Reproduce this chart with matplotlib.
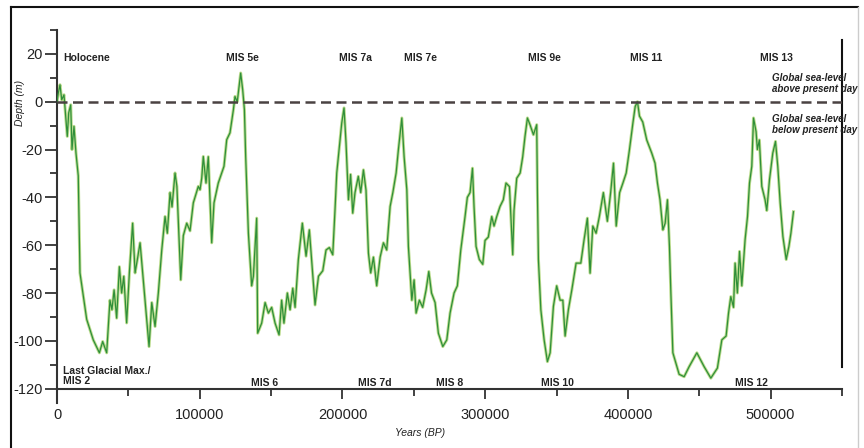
import matplotlib
matplotlib.use("Agg")
import matplotlib.pyplot as plt
from matplotlib.lines import Line2D

plt.rcParams['font.family'] = ['Liberation Sans', 'DejaVu Sans']
plt.rcParams['axes.unicode_minus'] = False

# sea level record
years = [0, 900, 2100, 3300, 4900, 6300, 7200, 8200, 9600, 10500, 11900, 13300,
         14900, 16100, 20800, 25400, 29700, 32000, 34800, 37100, 38500, 40000,
         41800, 43700, 45300, 46800, 48800, 50700, 53000, 54700, 56300, 58200,
         60000, 62400, 64500, 66400, 68700, 71000, 73400, 75700, 77300, 79200,
         80600, 82700, 84000, 86700, 88500, 90900, 93200, 95500, 99000, 100200,
         101400, 102500, 104400, 106000, 108400, 110000, 113000, 115400, 117000,
         118900, 121200, 123600, 124700, 126300, 128700, 130100, 131300, 132200,
         134100, 136400, 137600, 139900, 140600, 143400, 145800, 148100, 150400,
         152800, 155600, 157400, 159000, 161400, 163300, 165200, 166800, 169100,
         171900, 174500, 176800, 178400, 180800, 183200, 186200, 188500, 190800,
         193200, 194800, 196000, 197900, 199500, 201100, 202500, 204200, 205700,
         207200, 208800, 211100, 212800, 214700, 216500, 218200, 219800, 221700,
         224000, 226400, 228700, 231000, 233400, 235300, 237600, 239200, 241600,
         243200, 245100, 246200, 248600, 250200, 251600, 253900, 256200, 258600,
         260500, 262400, 264900, 267200, 270300, 273100, 275400, 278200, 280500,
         282900, 285900, 287500, 289400, 291100, 292200, 293600, 295900, 298300,
         299900, 302200, 304600, 306200, 308100, 310400, 312700, 314600, 317000,
         319300, 320200, 322100, 324500, 326300, 327900, 329600, 331400, 333800,
         336100, 336600, 337300, 339000, 341300, 343600, 345500, 347800, 350100,
         352500, 354400, 356000, 358300, 360700, 363700, 367000, 369300, 371600,
         373500, 375400, 377700, 380000, 382800, 385600, 387900, 389900, 391800,
         394200, 396500, 398800, 401100, 403500, 405100, 406700, 408100, 410400,
         413200, 416700, 419000, 420700, 422500, 424500, 426100, 427700, 429100,
         430100, 431500, 435900, 439400, 442900, 448300, 453400, 458100, 462700,
         465800, 468800, 470500, 472100, 474000, 475100, 476700, 478200, 479800,
         482100, 483800, 485200, 486800, 488000, 489800, 490700, 492100, 493800,
         496100, 497300, 499200, 501500, 503400, 505000, 506700, 508600, 510900,
         512800, 514200, 516000]
depth = [0, 3.6, 7.1, 0.8, 2.9, -7.5, -14.5, -4.6, -1.3, -20, -10.3, -21.5,
         -31, -71.6, -91, -99.6, -105, -100.3, -105, -83, -87, -78.7,
         -90.5, -69, -80, -73, -92.5, -71.6, -50.8, -71.6, -66, -59,
         -71.6, -88, -102.4, -84, -94, -80, -62, -48, -55, -38,
         -44, -29.8, -35.4, -74.5, -56, -50.8, -54, -42.3, -35.4, -36.8,
         -32, -22.9, -34, -23, -59, -42.3, -34, -29.8, -27,
         -15.9, -13, -3.3, 2.2, 0, 12, 5, -3.3, -23,
         -55, -77, -73, -48.7, -96.8, -92.6, -84, -88.4, -86,
         -92.6, -97.5, -83, -92.6, -80, -87, -78, -86, -66,
         -50.8, -64.6, -53.6, -66, -85, -73, -70.7, -62, -61,
         -64, -45, -29.8, -18.7, -8.9, -2.6, -17.3, -41, -30.4,
         -46.6, -38, -31.2, -38, -28.5, -37, -63.3, -71.6, -65,
         -77, -65, -59, -62, -43.8, -38, -29.8, -20, -6.8,
         -23, -36.8, -60.5, -83, -74.5, -88.4, -83, -86, -78.7,
         -71, -80, -84, -96.8, -102.4, -99.6, -88.4, -80, -77,
         -62, -48, -40, -38, -27.8, -44, -60.5, -66, -68,
         -58, -56.6, -48, -52, -48, -43.8, -41, -34, -35.5,
         -64, -45.5, -32, -29.8, -23, -14.5, -6.8, -9.6, -13.8,
         -9.6, -38, -66, -87, -99.6, -108.7, -105, -85.6, -77,
         -83, -83, -98, -87, -78.7, -67.5, -67.5, -57.7, -48.7,
         -71.7, -52, -55, -48, -38, -50, -38, -25.7, -52,
         -38, -34, -29.8, -20, -8.9, -2, 0, -6, -8.5,
         -16, -21.5, -25.7, -34, -41, -53.6, -50.8, -41, -60.5,
         -80, -105, -114, -115, -110.8, -105, -110.8, -115.6, -111.4,
         -99.6, -98, -88.4, -81.5, -86, -67.5, -80, -62.6, -77,
         -57.7, -48, -34, -27, -6.8, -12.5, -20, -16, -35.4,
         -41, -45.5, -32.6, -21.5, -16.6, -27, -42.4, -56.4, -66,
         -60.5, -55, -46]

top_labels = ["MIS 5e", "MIS 7a", "MIS 7e", "MIS 9e", "MIS 11", "MIS 13"]
top_label_x = [130000, 208800, 254400, 341600, 412800, 503900]
bottom_labels = ["MIS 6", "MIS 7d", "MIS 8", "MIS 10", "MIS 12"]
bottom_label_x = [145100, 222500, 275400, 350400, 486400]

x_ticks = [0, 100000, 200000, 300000, 400000, 500000]
y_ticks = [-120, -100, -80, -60, -40, -20, 0, 20]

fig = plt.figure(figsize=(8.64, 4.48), dpi=100)
ax = fig.add_axes([57 / 864, 1 - 403 / 448, 785 / 864, 373 / 448])

ax.plot(years, depth, color='#bcdc8e', lw=2.2, zorder=2)
ax.plot(years, depth, color='#2f8f3a', lw=0.9, zorder=3)

# present day sea level and right-hand marker
ax.plot([0, 550000], [0, 0], color='#4a4242', lw=1.8, ls=(0, (4, 2.2)), zorder=4)
ax.plot([550000, 550000], [-111, 26], color='#111111', lw=1.5, clip_on=False)

ax.set_xlim(0, 550000)
ax.set_ylim(-126, 30)
ax.spines['top'].set_visible(False)
ax.spines['right'].set_visible(False)
ax.spines['bottom'].set_position(('data', -120))
for s in ('left', 'bottom'):
    ax.spines[s].set_linewidth(1.5)
    ax.spines[s].set_color('#333333')

ax.set_xticks(x_ticks)
ax.set_xticks([50000, 150000, 250000, 350000, 450000, 550000], minor=True)
ax.set_yticks(y_ticks)
ax.set_yticks([-110, -90, -70, -50, -30, -10, 10, 30], minor=True)
ax.ticklabel_format(axis='x', style='plain')
ax.tick_params(axis='both', which='major', direction='out', width=1.3,
               color='#333333', labelsize=10.5, labelcolor='#222222')
ax.tick_params(axis='x', which='major', length=7, pad=7)
ax.tick_params(axis='y', which='major', length=9, pad=1)
ax.tick_params(axis='both', which='minor', direction='out', length=5,
               width=1.3, color='#333333')

lab = dict(fontsize=7.5, fontweight='bold', color='#222222')
ax.text(4200, 18.4, "Holocene", ha='left', va='center', **lab)
for name, xpos in zip(top_labels, top_label_x):
    ax.text(xpos, 18.4, name, ha='center', va='center', **lab)
for name, xpos in zip(bottom_labels, bottom_label_x):
    ax.text(xpos, -117.6, name, ha='center', va='center', **lab)
ax.text(4200, -114.5, "Last Glacial Max./\nMIS 2", ha='left', va='center',
        linespacing=1.0, **lab)

ital = dict(fontsize=7, fontweight='bold', fontstyle='italic', color='#222222')
ax.text(501000, 7.5, "Global sea-level\nabove present day", ha='left',
        va='center', linespacing=1.1, clip_on=False, **ital)
ax.text(501000, -9.5, "Global sea-level\nbelow present day", ha='left',
        va='center', linespacing=1.1, clip_on=False, **ital)

fig.text(20 / 864, 1 - 103 / 448, "Depth (m)", rotation=90, ha='center',
         va='center', fontsize=7.5, fontstyle='italic', color='#222222')
fig.text(420 / 864, 1 - 433 / 448, "Years (BP)", ha='center', va='center',
         fontsize=7.5, fontstyle='italic', color='#222222')

# scanned page frame
fig.add_artist(Line2D([11 / 864, 11 / 864], [0, 1 - 7 / 448], color='#111111', lw=1.5))
fig.add_artist(Line2D([11 / 864, 858 / 864], [1 - 7 / 448, 1 - 7 / 448], color='#111111', lw=1.5))
fig.add_artist(Line2D([858 / 864, 858 / 864], [0, 1 - 7 / 448], color='#cccccc', lw=1.0))

fig.savefig("out.png", dpi=100)
